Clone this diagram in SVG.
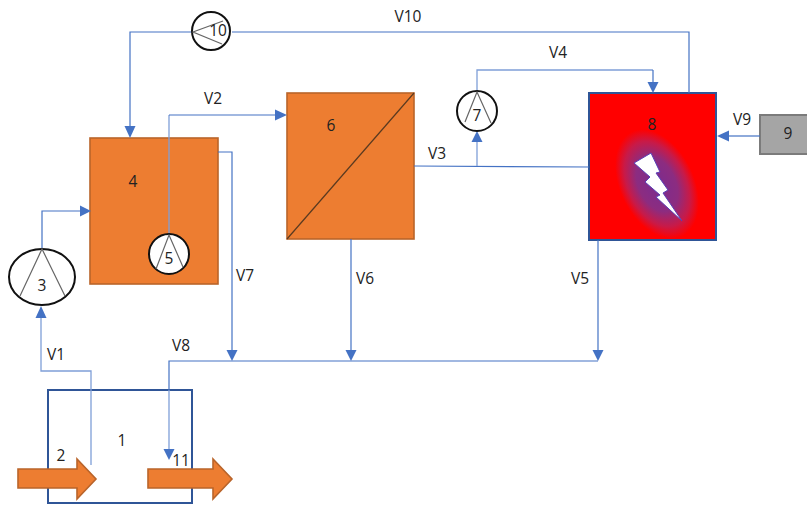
<svg xmlns="http://www.w3.org/2000/svg" width="807" height="506" viewBox="0 0 807 506">
<style>
text{font-family:"Open Sans","Liberation Sans",sans-serif;font-size:15.5px;fill:#222;text-anchor:middle}
.c{fill:none;stroke:#4472c4;stroke-width:1.2}
.c2{fill:none;stroke:#7f9fd8;stroke-width:1.3}
.a{fill:#4472c4;stroke:none}
.o{fill:#ed7d31;stroke:#b9642a;stroke-width:1.6}
.p{fill:#fff;stroke:#111;stroke-width:2}
.v{fill:none;stroke:#666;stroke-width:1.2}
</style>
<defs>
<radialGradient id="g" cx="0.5" cy="0.5" r="0.5">
<stop offset="0" stop-color="#7a2c90"/><stop offset="0.5" stop-color="#8c2c80"/><stop offset="0.78" stop-color="#c81a48"/><stop offset="1" stop-color="#ff0000"/>
</radialGradient>
</defs>
<rect width="807" height="506" fill="#fff"/>
<g id="node-1"><rect x="48" y="390" width="144" height="113" fill="none" stroke="#2f5597" stroke-width="2"/><text x="122" y="446">1</text></g>
<g id="node-2"><path class="o" d="M18 469H77V459L96 479L77 499V488H18Z"/><text x="61" y="461">2</text></g>
<g id="node-11"><path class="o" d="M148 469H213V459L232 479L213 499V488H148Z"/></g>
<g id="node-4"><rect class="o" x="90" y="138" width="128" height="146"/><text x="133" y="187">4</text></g>
<g id="node-6"><rect class="o" x="287" y="93" width="127" height="146"/><path d="M287 239L414 93" stroke="#5a3a20" stroke-width="1.2" fill="none"/><text x="331" y="131">6</text></g>
<g id="node-8"><rect x="589" y="93" width="127" height="147" fill="#f00" stroke="#2f5597" stroke-width="2"/>
<ellipse cx="657" cy="184" rx="37" ry="58" transform="rotate(-26 657 184)" fill="url(#g)"/>
<path d="M634 163L651 153L660 172L656 173L668 190L663 193L682 221L656 197L660 195L645 182L650 177Z" fill="#fff" stroke="#5b3fb5" stroke-width="1"/>
<text x="652" y="130">8</text></g>
<g id="node-9"><rect x="760" y="115" width="50" height="39" fill="#a5a5a5" stroke="#7b7b7b" stroke-width="2"/><text x="788" y="139">9</text></g>
<g id="connectors">
<path class="c2" d="M91 465V371H41V318"/><path class="a" d="M41 306L35.500 318H46.500Z"/>
<path class="c" d="M42 248V211H81"/><path class="a" d="M91 211L80 205.500V216.500Z"/>
<path class="c2" d="M169 240V115"/><path class="c" d="M169 115H276"/><path class="a" d="M287 115L275 109.500V120.500Z"/>
<path class="c" d="M414 166L589 167"/>
<path class="c2" d="M477 166V140"/><path class="a" d="M477 131L471.500 142H482.500Z"/>
<path class="c2" d="M477 92V70H653"/><path class="c" d="M653 70V82"/><path class="a" d="M653 93L647.500 82H658.500Z"/>
<path class="c" d="M689 93V32H232"/>
<path class="c" d="M197 32H130V126"/><path class="a" d="M130 138L124.500 126H135.500Z"/>
<path class="c" d="M760 136H729"/><path class="a" d="M717 136L729 130.500V141.500Z"/>
<path class="c" d="M218 152H232V350"/><path class="a" d="M232 361L226.500 350H237.500Z"/>
<path class="c" d="M351 239V350"/><path class="a" d="M351 361L345.500 350H356.500Z"/>
<path class="c" d="M598 240V350"/><path class="a" d="M598 361L592.500 350H603.500Z"/>
<path class="c" d="M598 361H169V390"/><path class="c2" d="M169 390V450"/><path class="a" d="M169 460L163.500 449H174.500Z"/>
</g>
<g id="node-3"><ellipse class="p" cx="42" cy="277" rx="33" ry="28"/><path class="v" d="M20 296L42 249L65 296"/><text x="42" y="291">3</text></g>
<g id="node-5"><circle class="p" cx="169" cy="254" r="20"/><path class="v" d="M156 269L169 235L183 267"/><text x="169" y="264">5</text></g>
<g id="node-7"><circle class="p" cx="477" cy="111" r="20"/><path class="v" d="M465 122L477 92L491 123"/><text x="477" y="121">7</text></g>
<g id="node-10"><circle class="p" cx="211" cy="31" r="19"/><path class="v" d="M223 21L193 32L222 44"/><text x="218" y="36">10</text></g>
<g id="labels">
<text x="181" y="466">11</text>
<text x="56" y="360">V1</text><text x="213" y="104">V2</text><text x="437" y="159">V3</text><text x="558" y="58">V4</text><text x="580" y="284">V5</text><text x="365" y="284">V6</text><text x="245" y="281">V7</text><text x="181" y="351">V8</text><text x="742" y="125">V9</text><text x="408" y="22">V10</text>
</g>
</svg>
